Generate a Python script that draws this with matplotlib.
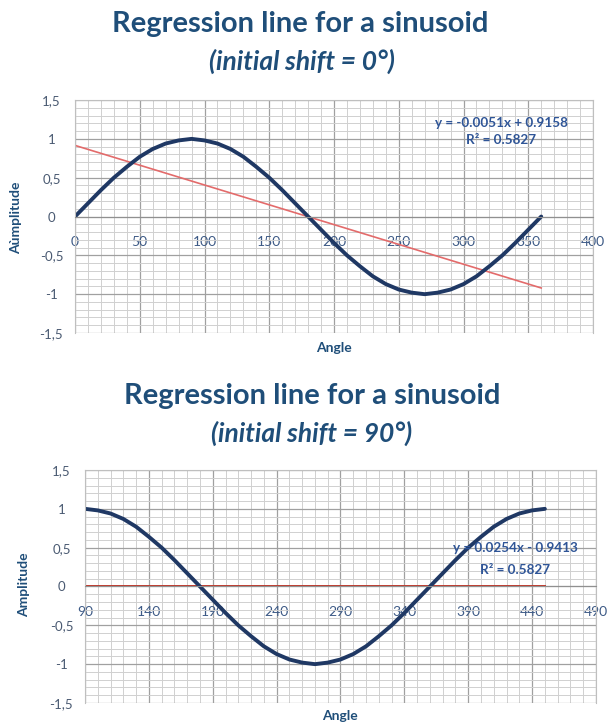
import matplotlib
matplotlib.use('Agg')
import matplotlib.pyplot as plt
from matplotlib.ticker import MultipleLocator, FixedLocator
import numpy as np

plt.rcParams['font.family'] = ['Lato', 'DejaVu Sans']

# sinusoid sampled every 10 degrees, shift 0
angle_0 = list(range(0, 361, 10))
amp_0 = [0, 0.17, 0.34, 0.5, 0.64, 0.77, 0.87, 0.94, 0.98, 1.0,
         0.98, 0.94, 0.87, 0.77, 0.64, 0.5, 0.34, 0.17, 0,
         -0.17, -0.34, -0.5, -0.64, -0.77, -0.87, -0.94, -0.98, -1.0,
         -0.98, -0.94, -0.87, -0.77, -0.64, -0.5, -0.34, -0.17, 0]
# trend line top chart: y = slope*x + intercept
slope_0, icpt_0, r2_0 = -0.0051, 0.9158, 0.5827

# sinusoid with 90 degree shift
angle_90 = list(range(90, 451, 10))
amp_90 = [1.0, 0.98, 0.94, 0.87, 0.77, 0.64, 0.5, 0.34, 0.17, 0,
          -0.17, -0.34, -0.5, -0.64, -0.77, -0.87, -0.94, -0.98, -1.0,
          -0.98, -0.94, -0.87, -0.77, -0.64, -0.5, -0.34, -0.17, 0,
          0.17, 0.34, 0.5, 0.64, 0.77, 0.87, 0.94, 0.98, 1.0]
# trend line bottom chart (drawn flat), label as printed
trend_90_x = [90, 450]
trend_90_y = [0, 0]
eq_90 = 'y = 0.0254x - 0.9413'
r2_90 = 0.5827

y_ticks = [-1.5, -1, -0.5, 0, 0.5, 1, 1.5]
y_ticklabels = ['-1,5', '-1', '-0,5', '0', '0,5', '1', '1,5']

TITLE_C = '#1F4E79'
TICK_C = '#3D5A86'
CURVE_C = '#1F3864'
EQ_C = '#2F5597'


def style_axes(ax, x0, x1):
    ax.set_xlim(x0, x1)
    ax.set_ylim(-1.5, 1.5)
    ax.xaxis.set_major_locator(FixedLocator(list(range(x0, x1 + 1, 50))))
    ax.xaxis.set_minor_locator(FixedLocator(list(range(x0, x1 + 1, 10))))
    ax.yaxis.set_major_locator(FixedLocator(y_ticks))
    ax.yaxis.set_minor_locator(MultipleLocator(0.1))
    ax.set_yticklabels(y_ticklabels)
    ax.grid(which='major', color='#A0A0A0', linewidth=0.9)
    ax.grid(which='minor', color='#D0D0D0', linewidth=0.7)
    ax.set_axisbelow(True)
    for s in ['top', 'right', 'left']:
        ax.spines[s].set_color('#BFBFBF')
        ax.spines[s].set_linewidth(0.8)
    ax.spines['bottom'].set_position(('data', 0))
    ax.spines['bottom'].set_color('#909090')
    ax.tick_params(which='both', length=0)
    ax.tick_params(axis='x', pad=14, labelsize=10, labelcolor=TICK_C)
    ax.tick_params(axis='y', pad=17, labelsize=9.5, labelcolor='#4A5A72')
    for lab in ax.get_yticklabels():
        lab.set_horizontalalignment('center')


fig = plt.figure(figsize=(6.16, 7.26), dpi=100)

# top chart
ax1 = fig.add_axes([0.1218, 0.5413, 0.8409, 0.3209])
style_axes(ax1, 0, 400)
x_fit = np.array([angle_0[0], angle_0[-1]])
ax1.plot(x_fit, slope_0 * x_fit + icpt_0, color='#E36B6B', linewidth=1.2)
ax1.plot(angle_0, amp_0, color=CURVE_C, linewidth=2.8, solid_capstyle='round')
ax1.text(329, 1.21, 'y = %.4fx + %.4f' % (slope_0, icpt_0), ha='center', va='center',
         fontsize=9.7, fontweight='bold', color=EQ_C)
ax1.text(329, 0.98, 'R² = %.4f' % r2_0, ha='center', va='center',
         fontsize=9.7, fontweight='bold', color=EQ_C)

# bottom chart
ax2 = fig.add_axes([0.138, 0.0317, 0.8295, 0.3209])
style_axes(ax2, 90, 490)
ax2.plot(trend_90_x, trend_90_y, color='#C0392B', linewidth=1.4)
ax2.plot(angle_90, amp_90, color=CURVE_C, linewidth=2.8, solid_capstyle='round')
ax2.text(427, 0.50, eq_90, ha='center', va='center',
         fontsize=9.7, fontweight='bold', color=EQ_C)
ax2.text(427, 0.21, 'R² = %.4f' % r2_90, ha='center', va='center',
         fontsize=9.7, fontweight='bold', color=EQ_C)

# titles and axis labels
H = 726.0
W = 616.0
fig.text(300 / W, 1 - 24 / H, 'Regression line for a sinusoid', ha='center', va='center',
         fontsize=21, fontweight='bold', color=TITLE_C)
fig.text(302 / W, 1 - 61 / H, '(initial shift = 0°)', ha='center', va='center',
         fontsize=19, fontweight='bold', style='italic', color=TITLE_C)
fig.text(312 / W, 1 - 396 / H, 'Regression line for a sinusoid', ha='center', va='center',
         fontsize=21, fontweight='bold', color=TITLE_C)
fig.text(312 / W, 1 - 433 / H, '(initial shift = 90°)', ha='center', va='center',
         fontsize=19, fontweight='bold', style='italic', color=TITLE_C)

fig.text(334 / W, 1 - 348 / H, 'Angle', ha='center', va='center',
         fontsize=10, fontweight='bold', color=TITLE_C)
fig.text(340 / W, 1 - 716 / H, 'Angle', ha='center', va='center',
         fontsize=10, fontweight='bold', color=TITLE_C)
fig.text(16 / W, 1 - 218 / H, 'Aùmplitude', ha='center', va='center', rotation=90,
         fontsize=10, fontweight='bold', color=TITLE_C)
fig.text(24 / W, 1 - 585 / H, 'Amplitude', ha='center', va='center', rotation=90,
         fontsize=10, fontweight='bold', color=TITLE_C)

fig.savefig('out.png', dpi=100)
